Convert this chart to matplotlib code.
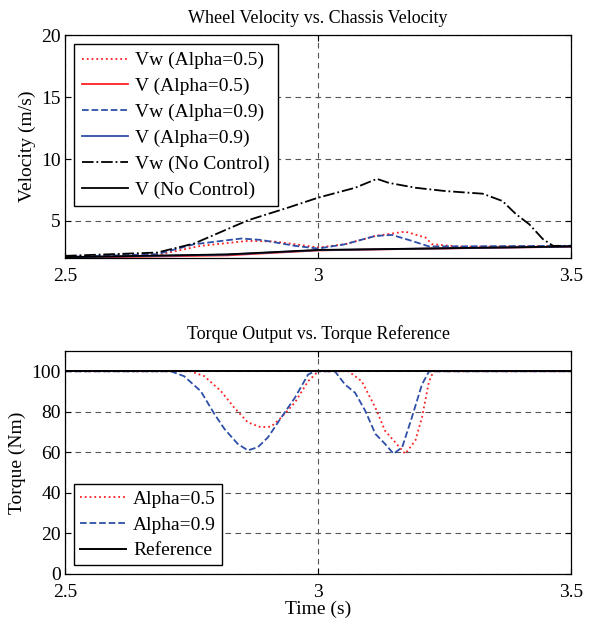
import numpy as np
import matplotlib
matplotlib.use('Agg')
from matplotlib import pyplot as plt

plt.rcParams['font.family'] = ['Liberation Serif', 'DejaVu Serif']
plt.rcParams['font.size'] = 14

# velocity data (time s, velocity m/s)
t_nc = [2.5, 2.682, 2.755, 2.861, 2.94, 3.0, 3.073, 3.116, 3.139, 3.192, 3.252, 3.325,
        3.364, 3.391, 3.417, 3.444, 3.464, 3.5]
vw_nc = [2.18, 2.45, 3.18, 5.05, 6.07, 6.88, 7.68, 8.40, 8.08, 7.68, 7.41, 7.20,
         6.61, 5.54, 4.73, 3.53, 2.99, 2.99]

t_a5 = [2.5, 2.689, 2.768, 2.861, 2.914, 2.954, 3.0, 3.053, 3.113, 3.172, 3.212, 3.225, 3.285, 3.5]
vw_a5 = [2.10, 2.32, 2.99, 3.39, 3.34, 3.12, 2.86, 3.12, 3.79, 4.14, 3.66, 3.12, 2.91, 2.99]

t_a9 = [2.5, 2.682, 2.755, 2.848, 2.887, 2.954, 3.0, 3.053, 3.113, 3.146, 3.185, 3.219, 3.5]
vw_a9 = [2.10, 2.32, 3.12, 3.58, 3.47, 2.99, 2.77, 3.12, 3.79, 3.87, 3.39, 2.94, 2.99]

t_v = [2.5, 2.82, 3.0, 3.15, 3.5]
v_a5 = [2.02, 2.22, 2.62, 2.72, 2.92]
v_a9 = [2.06, 2.28, 2.64, 2.73, 2.93]
v_nc = [2.08, 2.30, 2.66, 2.74, 2.94]

# torque data (time s, torque Nm)
tq_t5 = [2.5, 2.748, 2.775, 2.808, 2.834, 2.861, 2.887, 2.907, 2.927, 2.954, 2.98, 3.0,
         3.06, 3.086, 3.113, 3.132, 3.152, 3.172, 3.192, 3.205, 3.219, 3.228, 3.5]
tq_a5 = [100, 100, 97.6, 90.2, 82.1, 74.8, 72.4, 72.7, 77.2, 84.6, 95.1, 100,
         100, 95.1, 82.1, 70.7, 65.0, 59.3, 65.9, 77.2, 95.1, 100, 100]
tq_t9 = [2.5, 2.709, 2.735, 2.768, 2.795, 2.815, 2.841, 2.861, 2.881, 2.901, 2.927, 2.954,
         2.98, 2.993, 3.033, 3.053, 3.073, 3.093, 3.113, 3.132, 3.149, 3.166, 3.185, 3.205,
         3.219, 3.5]
tq_a9 = [100, 100, 97.6, 90.2, 78.9, 71.5, 64.2, 61.0, 62.6, 67.5, 77.2, 87.0,
         98.4, 100, 100, 93.5, 89.4, 80.5, 69.1, 64.2, 59.3, 62.6, 77.2, 93.5,
         100, 100]
tq_ref_t = [2.5, 3.5]
tq_ref = [100, 100]

red = '#ff2020'
blue = '#2d4fa8'

fig = plt.figure(figsize=(5.92, 6.28), dpi=100)
ax1 = fig.add_axes([0.110, 0.589, 0.855, 0.355])
ax2 = fig.add_axes([0.110, 0.086, 0.855, 0.355])

lw = 1.3
ax1.plot(t_a5, vw_a5, ':', color=red, lw=lw, label='Vw (Alpha=0.5)')
ax1.plot(t_v, v_a5, '-', color=red, lw=lw, label='V (Alpha=0.5)')
ax1.plot(t_a9, vw_a9, '--', color=blue, lw=lw, label='Vw (Alpha=0.9)')
ax1.plot(t_v, v_a9, '-', color=blue, lw=lw, label='V (Alpha=0.9)')
ax1.plot(t_nc, vw_nc, '-.', color='black', lw=lw, label='Vw (No Control)')
ax1.plot(t_v, v_nc, '-', color='black', lw=lw, label='V (No Control)')
ax1.set_xlim(2.5, 3.5)
ax1.set_ylim(2, 20)
ax1.set_yticks([5, 10, 15, 20])
ax1.set_xticks([2.5, 3, 3.5])
ax1.set_xticklabels(['2.5', '3', '3.5'])
ax1.set_title('Wheel Velocity vs. Chassis Velocity', fontsize=13, pad=9)
ax1.set_ylabel('Velocity (m/s)', labelpad=4)
leg_kw = dict(fancybox=False, edgecolor='black', framealpha=1, handlelength=2.4,
              handletextpad=0.35, labelspacing=0.42, borderaxespad=0.45, fontsize=14)
ax1.legend(loc='upper left', borderpad=0.4, **leg_kw)

ax2.plot(tq_t5, tq_a5, ':', color=red, lw=lw, label='Alpha=0.5')
ax2.plot(tq_t9, tq_a9, '--', color=blue, lw=lw, label='Alpha=0.9')
ax2.plot(tq_ref_t, tq_ref, '-', color='black', lw=1.4, label='Reference')
ax2.set_xlim(2.5, 3.5)
ax2.set_ylim(0, 110)
ax2.set_yticks([0, 20, 40, 60, 80, 100])
ax2.set_xticks([2.5, 3, 3.5])
ax2.set_xticklabels(['2.5', '3', '3.5'])
ax2.set_title('Torque Output vs. Torque Reference', fontsize=13, pad=9)
ax2.set_ylabel('Torque (Nm)', labelpad=4)
ax2.set_xlabel('Time (s)', labelpad=0)
ax2.legend(loc='lower left', borderpad=0.3, **leg_kw)

for ax in (ax1, ax2):
    ax.grid(True, linestyle=(0, (5, 4)), color='#555555', lw=0.8)
    ax.tick_params(direction='in', top=True, right=True, length=4, labelsize=14)
    ax.tick_params(axis='x', pad=7)
    ax.tick_params(axis='y', pad=3)
    for s in ax.spines.values():
        s.set_linewidth(0.9)

fig.savefig('out.png', dpi=100)
